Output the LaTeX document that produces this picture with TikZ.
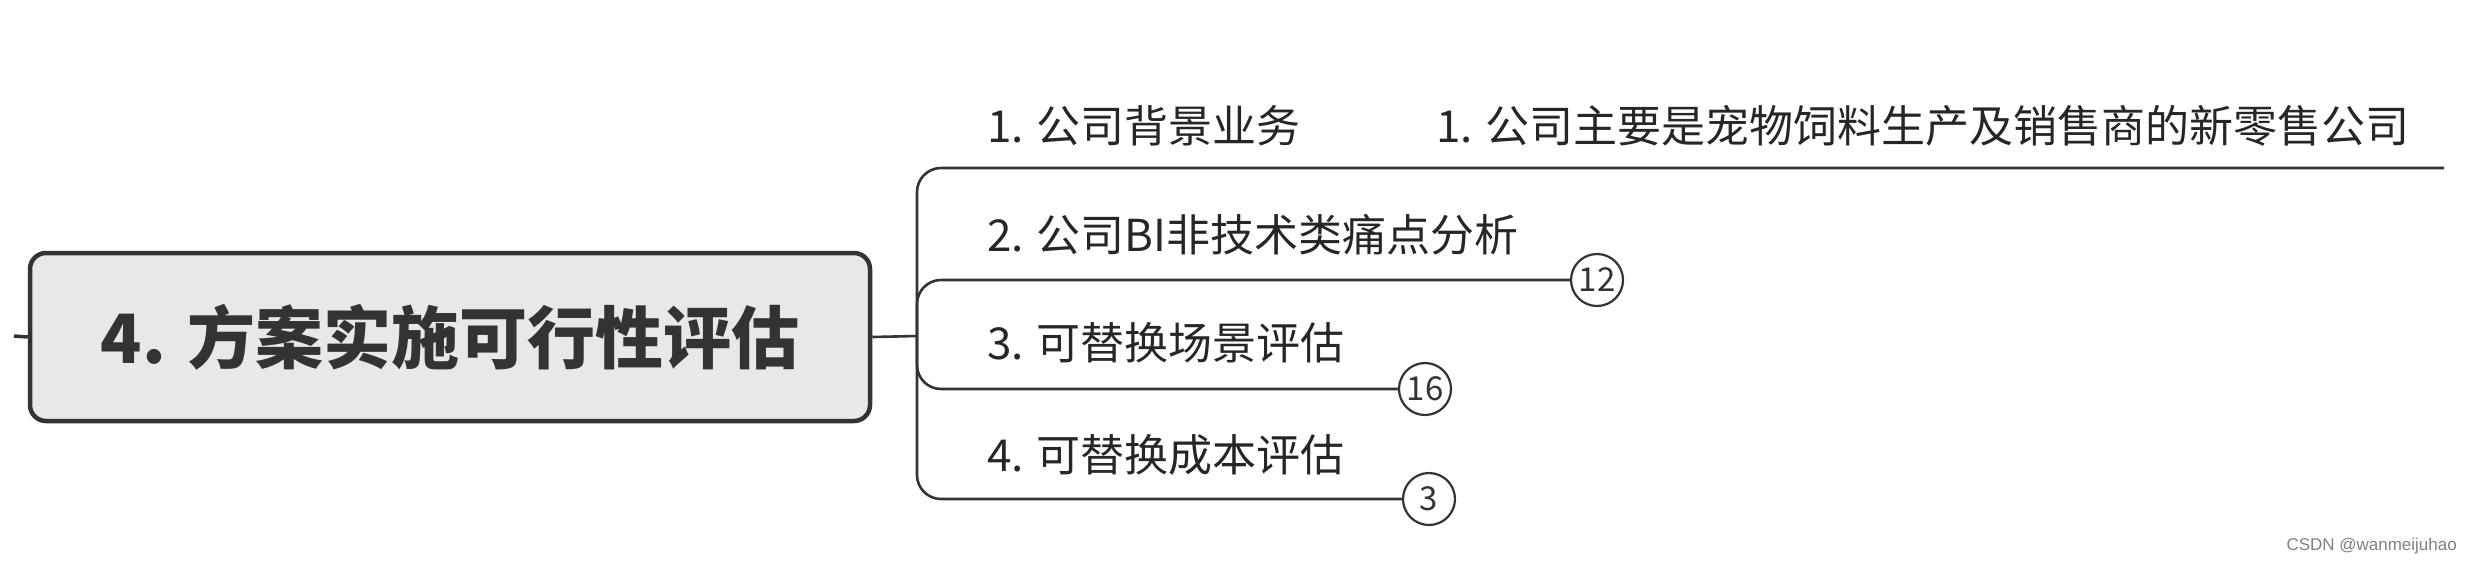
\documentclass[tikz,border=0pt]{standalone}
\usepackage{fontspec}
\setmainfont{Noto Sans CJK SC}
\newfontfamily\wmfont{Liberation Sans}
\begin{document}
\begin{tikzpicture}[x=1pt,y=-1pt,
  conn/.style={draw=black!80, line width=2.6pt},
  rootbox/.style={draw=black!80, line width=4.5pt, fill=black!9, rounded corners=16pt,
    minimum width=840pt, minimum height=168pt, inner sep=0pt,
    font=\fontsize{68}{68}\selectfont\bfseries, text=black!80},
  branch/.style={anchor=west, inner sep=0pt, font=\fontsize{44}{44}\selectfont, text=black!85},
  badge/.style={circle, draw=black!80, line width=2.2pt, fill=white, minimum size=52pt,
    inner sep=0pt, font=\fontsize{33}{33}\selectfont, text=black!80}]
\useasboundingbox (0,0) rectangle (2470,566);
\node[rootbox] (root) at (450,337) {4. 方案实施可行性评估};
\coordinate (stub) at (14,336);
\coordinate (J) at (917,336);
\coordinate (e1) at (2444,168);
\node[badge] (c12) at (1597,280) {12};
\node[badge] (c16) at (1425,389) {16};
\node[badge] (c3) at (1429,499) {3};
\node[branch] (b1) at (987,126) {1. 公司背景业务};
\node[branch] (b2) at (987,235) {2. 公司BI非技术类痛点分析};
\node[branch] (b3) at (987,343) {3. 可替换场景评估};
\node[branch] (b4) at (987,455) {4. 可替换成本评估};
\node[branch] (s1) at (1436,126) {1. 公司主要是宠物饲料生产及销售商的新零售公司};
\draw[conn, line width=3.5pt] (stub) -- (root.west);
\draw[conn] (root.east) -- (J);
\draw[conn, rounded corners=24pt] (J) |- (e1);
\draw[conn, rounded corners=24pt] (J) |- (c12.west);
\draw[conn, rounded corners=24pt] (J) |- (c16.west);
\draw[conn, rounded corners=24pt] (J) |- (c3.west);
\node[anchor=east, inner sep=0pt, font=\wmfont\fontsize{17}{17}\selectfont, text=black!50] (wm) at (2457,546) {CSDN @wanmeijuhao};
\end{tikzpicture}
\end{document}
